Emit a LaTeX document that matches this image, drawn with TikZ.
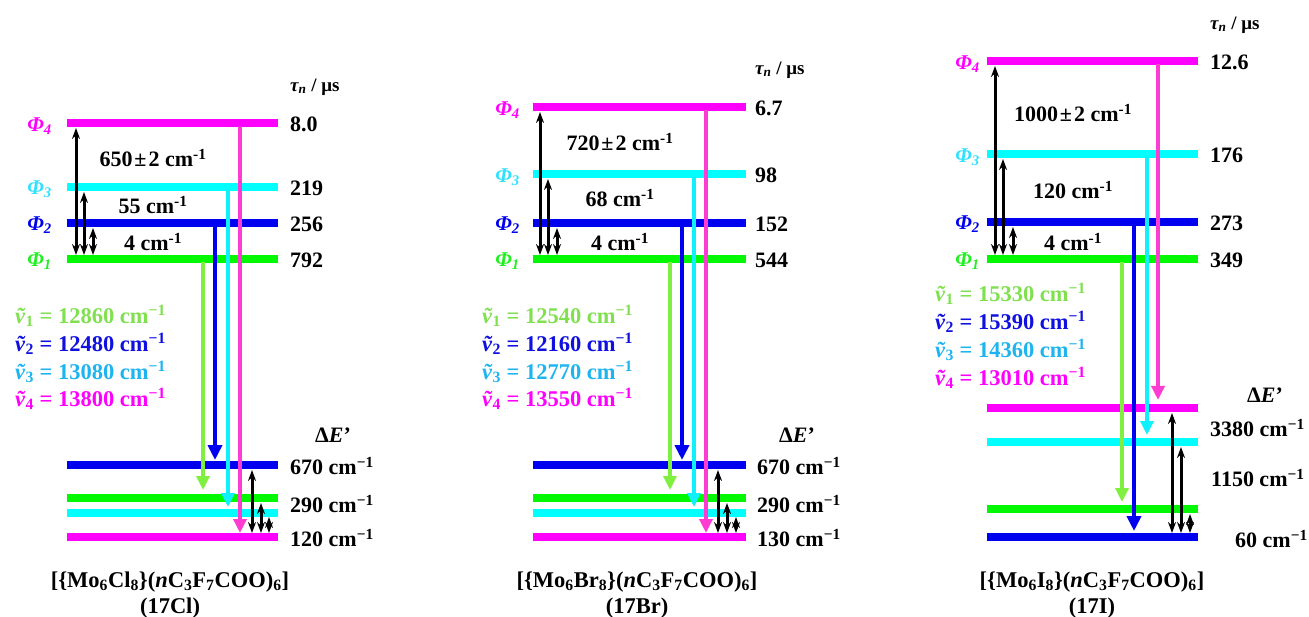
\documentclass[tikz,border=0pt]{standalone}
\usepackage{fontspec}
\setmainfont{Liberation Serif}
\usetikzlibrary{arrows.meta}
\definecolor{mag}{HTML}{FF00FF}
\definecolor{magA}{HTML}{FF3CD2}
\definecolor{cya}{HTML}{00FFFF}
\definecolor{cyaA}{HTML}{10F0FF}
\definecolor{cyaT}{HTML}{1EB4F0}
\definecolor{phiC}{HTML}{30E0FF}
\definecolor{blu}{HTML}{0000F0}
\definecolor{bluT}{HTML}{1010E0}
\definecolor{grn}{HTML}{00F800}
\definecolor{grnA}{HTML}{80F040}
\definecolor{grnT}{HTML}{80E050}
\definecolor{phiG}{HTML}{20F020}
\newcommand\PhiLab[1]{\textit{Φ}\textsubscript{\textit{#1}}}
\newcommand\NuLab[1]{\textit{\~{v}}\textsubscript{#1}}
\newcommand\cmm{cm\textsuperscript{−1}}
\newcommand\cmh{cm\textsuperscript{-1}}
\newcommand\pmw{\kern2pt±\kern2pt}
\begin{document}
\begin{tikzpicture}[x=1pt,y=-1pt,
  bar/.style={line width=8.5pt},
  emis/.style={line width=3.4pt,-{Triangle[width=13pt,length=14pt]}},
  emisb/.style={line width=4.2pt,-{Triangle[width=14pt,length=15pt]}},
  gap/.style={line width=3pt,black,{Stealth[width=8pt,length=11pt]}-{Stealth[width=8pt,length=11pt]}},
  lbl/.style={font=\bfseries\fontsize{22}{24}\selectfont,inner sep=0pt},
  plbl/.style={font=\bfseries\fontsize{21}{24}\selectfont,inner sep=0pt,anchor=east},
  tau/.style={font=\bfseries\fontsize{19}{22}\selectfont,inner sep=0pt,anchor=west},
  nu/.style={font=\bfseries\fontsize{22.5}{24}\selectfont,inner sep=0pt,anchor=west},
  comp/.style={font=\bfseries\fontsize{22.5}{24}\selectfont,inner sep=0pt}
]
\useasboundingbox (0,0) rectangle (1309,617);

%================ Panel 1 (17Cl) ================
\draw[bar,mag] (67,123) -- (278,123);
\draw[bar,cya] (67,187) -- (278,187);
\draw[bar,blu] (67,223) -- (278,223);
\draw[bar,grn] (67,259) -- (278,259);
\draw[bar,blu] (67,465) -- (278,465);
\draw[bar,grn] (67,498) -- (278,498);
\draw[bar,cya] (67,513) -- (278,513);
\draw[bar,mag] (67,537) -- (278,537);
\draw[emis,grnA] (203,262) -- (203,490);
\draw[emisb,blu] (215,226) -- (215,460);
\draw[emis,cyaA] (228,190) -- (228,507);
\draw[emis,magA] (240,126) -- (240,533);
\draw[gap] (76,128) -- (76,255);
\draw[gap] (84,192) -- (84,255);
\draw[gap] (93,228) -- (93,255);
\draw[gap] (252,470) -- (252,533);
\draw[gap] (261,503) -- (261,533);
\draw[gap] (269,517) -- (269,533);
\node[tau] (t1) at (290,87) {\textit{τ\textsubscript{n}} / μs};
\node[lbl,anchor=west] (v14) at (290,124) {8.0};
\node[lbl,anchor=west] (v13) at (290,188) {219};
\node[lbl,anchor=west] (v12) at (290,224) {256};
\node[lbl,anchor=west] (v11) at (290,260) {792};
\node[plbl,mag] (p14) at (52,126) {\PhiLab{4}};
\node[plbl,phiC] (p13) at (52,189) {\PhiLab{3}};
\node[plbl,blu] (p12) at (52,225) {\PhiLab{2}};
\node[plbl,phiG] (p11) at (52,261) {\PhiLab{1}};
\node[lbl] (g14) at (153,158) {650\pmw2 \cmh};
\node[lbl] (g13) at (153,205) {55 \cmh};
\node[lbl] (g12) at (153,242) {4 \cmh};
\node[nu,grnT] (n11) at (15,316) {\NuLab{1} = 12860 \cmm};
\node[nu,bluT] (n12) at (15,344) {\NuLab{2} = 12480 \cmm};
\node[nu,cyaT] (n13) at (15,372) {\NuLab{3} = 13080 \cmm};
\node[nu,mag] (n14) at (15,399) {\NuLab{4} = 13800 \cmm};
\node[lbl] (d1) at (333,435) {Δ\textit{E}’};
\node[lbl,anchor=west] (e13) at (290,466) {670 \cmm};
\node[lbl,anchor=west] (e12) at (290,504) {290 \cmm};
\node[lbl,anchor=west] (e11) at (290,538) {120 \cmm};
\node[comp] (c1) at (170,582) {[\{Mo\textsubscript{6}Cl\textsubscript{8}\}(\textit{n}C\textsubscript{3}F\textsubscript{7}COO)\textsubscript{6}]};
\node[comp] (c1b) at (170,608) {(17Cl)};

%================ Panel 2 (17Br) ================
\draw[bar,mag] (533,107) -- (746,107);
\draw[bar,cya] (533,174) -- (746,174);
\draw[bar,blu] (533,223) -- (746,223);
\draw[bar,grn] (533,259) -- (746,259);
\draw[bar,blu] (533,465) -- (746,465);
\draw[bar,grn] (533,498) -- (746,498);
\draw[bar,cya] (533,513) -- (746,513);
\draw[bar,mag] (533,537) -- (746,537);
\draw[emis,grnA] (670,262) -- (670,490);
\draw[emisb,blu] (682,226) -- (682,460);
\draw[emis,cyaA] (694,177) -- (694,507);
\draw[emis,magA] (706,110) -- (706,533);
\draw[gap] (540,112) -- (540,255);
\draw[gap] (548,179) -- (548,255);
\draw[gap] (557,228) -- (557,255);
\draw[gap] (718,470) -- (718,533);
\draw[gap] (727,503) -- (727,533);
\draw[gap] (736,517) -- (736,533);
\node[tau] (t2) at (755,70) {\textit{τ\textsubscript{n}} / μs};
\node[lbl,anchor=west] (v24) at (755,108) {6.7};
\node[lbl,anchor=west] (v23) at (755,175) {98};
\node[lbl,anchor=west] (v22) at (755,224) {152};
\node[lbl,anchor=west] (v21) at (755,260) {544};
\node[plbl,mag] (p24) at (520,110) {\PhiLab{4}};
\node[plbl,phiC] (p23) at (520,177) {\PhiLab{3}};
\node[plbl,blu] (p22) at (520,225) {\PhiLab{2}};
\node[plbl,phiG] (p21) at (520,261) {\PhiLab{1}};
\node[lbl] (g24) at (620,142) {720\pmw2 \cmh};
\node[lbl] (g23) at (620,198) {68 \cmh};
\node[lbl] (g22) at (620,242) {4 \cmh};
\node[nu,grnT] (n21) at (482,316) {\NuLab{1} = 12540 \cmm};
\node[nu,bluT] (n22) at (482,344) {\NuLab{2} = 12160 \cmm};
\node[nu,cyaT] (n23) at (482,372) {\NuLab{3} = 12770 \cmm};
\node[nu,mag] (n24) at (482,399) {\NuLab{4} = 13550 \cmm};
\node[lbl] (d2) at (797,435) {Δ\textit{E}’};
\node[lbl,anchor=west] (e23) at (757,466) {670 \cmm};
\node[lbl,anchor=west] (e22) at (757,504) {290 \cmm};
\node[lbl,anchor=west] (e21) at (757,538) {130 \cmm};
\node[comp] (c2) at (637,582) {[\{Mo\textsubscript{6}Br\textsubscript{8}\}(\textit{n}C\textsubscript{3}F\textsubscript{7}COO)\textsubscript{6}]};
\node[comp] (c2b) at (637,608) {(17Br)};

%================ Panel 3 (17I) ================
\draw[bar,mag] (987,61) -- (1198,61);
\draw[bar,cya] (987,154) -- (1198,154);
\draw[bar,blu] (987,222) -- (1198,222);
\draw[bar,grn] (987,259) -- (1198,259);
\draw[bar,mag] (987,408) -- (1198,408);
\draw[bar,cya] (987,442) -- (1198,442);
\draw[bar,grn] (987,509) -- (1198,509);
\draw[bar,blu] (987,537) -- (1198,537);
\draw[emis,grnA] (1122,262) -- (1122,502);
\draw[emisb,blu] (1134,225) -- (1134,531);
\draw[emis,cyaA] (1147,157) -- (1147,435);
\draw[emis,magA] (1158,64) -- (1158,400);
\draw[gap] (995,66) -- (995,255);
\draw[gap] (1003,159) -- (1003,255);
\draw[gap] (1013,227) -- (1013,255);
\draw[gap] (1172,413) -- (1172,533);
\draw[gap] (1181,447) -- (1181,533);
\draw[gap] (1190,514) -- (1190,533);
\node[tau] (t3) at (1210,25) {\textit{τ\textsubscript{n}} / μs};
\node[lbl,anchor=west] (v34) at (1210,62) {12.6};
\node[lbl,anchor=west] (v33) at (1210,155) {176};
\node[lbl,anchor=west] (v32) at (1210,223) {273};
\node[lbl,anchor=west] (v31) at (1210,260) {349};
\node[plbl,mag] (p34) at (980,64) {\PhiLab{4}};
\node[plbl,phiC] (p33) at (980,157) {\PhiLab{3}};
\node[plbl,blu] (p32) at (980,224) {\PhiLab{2}};
\node[plbl,phiG] (p31) at (980,261) {\PhiLab{1}};
\node[lbl] (g34) at (1073,113) {1000\pmw2 \cmh};
\node[lbl] (g33) at (1073,190) {120 \cmh};
\node[lbl] (g32) at (1073,242) {4 \cmh};
\node[nu,grnT] (n31) at (935,294) {\NuLab{1} = 15330 \cmm};
\node[nu,bluT] (n32) at (935,322) {\NuLab{2} = 15390 \cmm};
\node[nu,cyaT] (n33) at (935,350) {\NuLab{3} = 14360 \cmm};
\node[nu,mag] (n34) at (935,378) {\NuLab{4} = 13010 \cmm};
\node[lbl] (d3) at (1265,395) {Δ\textit{E}’};
\node[lbl,anchor=west] (e33) at (1210,428) {3380 \cmm};
\node[lbl,anchor=west] (e32) at (1211,478) {1150 \cmm};
\node[lbl,anchor=west] (e31) at (1235,539) {60 \cmm};
\node[comp] (c3) at (1092,582) {[\{Mo\textsubscript{6}I\textsubscript{8}\}(\textit{n}C\textsubscript{3}F\textsubscript{7}COO)\textsubscript{6}]};
\node[comp] (c3b) at (1092,608) {(17I)};
\end{tikzpicture}
\end{document}
